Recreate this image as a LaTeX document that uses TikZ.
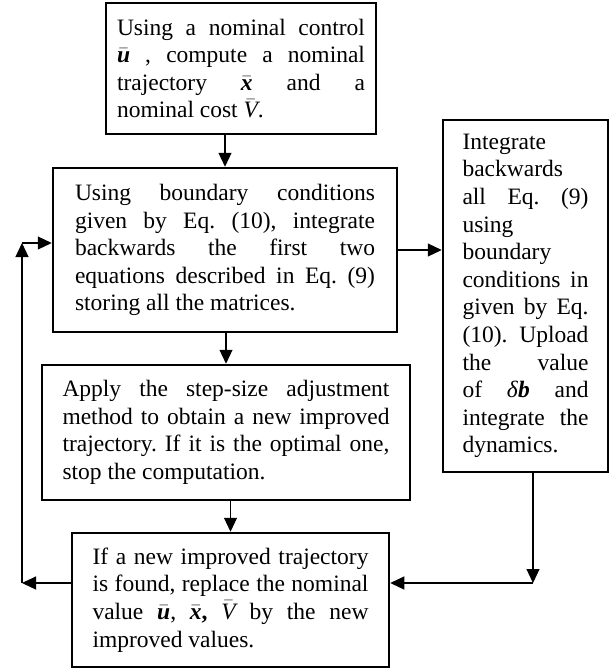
\documentclass[tikz,border=0pt]{standalone}
\usepackage{fontspec}
\setmainfont{Liberation Serif}
\usetikzlibrary{arrows.meta}

\newcommand{\nomvec}[1]{\ensuremath{\bar{\textbf{\textit{#1}}}}}
\newcommand{\nomV}{\ensuremath{\bar{\textit{V}}}}
\hyphenpenalty=10000
\frenchspacing

\begin{document}
\begin{tikzpicture}[x=1pt, y=-1pt,
    box/.style={draw, line width=2.5pt, align=justify, inner sep=0pt,
      font=\fontsize{23.5}{27.6}\selectfont},
    arr/.style={-{Triangle[length=14pt,width=13pt]}, line width=1.1pt}]
    \useasboundingbox (0,0) rectangle (611,670);

    % 方框
    \node[box, minimum width=270pt, minimum height=131pt, text width=248pt] (nominal) at (241,68.5)
      {Using a nominal control\linebreak \nomvec{u} , compute a nominal\linebreak trajectory \nomvec{x} and a\linebreak nominal cost \nomV.};
    \node[box, minimum width=344pt, minimum height=164pt, text width=300pt] (backward) at (225,250)
      {Using boundary conditions\linebreak given by Eq. (10), integrate\linebreak backwards the first two\linebreak equations described in Eq. (9)\linebreak storing all the matrices.};
    \node[box, minimum width=165pt, minimum height=352pt, text width=126pt] (fullback) at (525.5,296)
      {Integrate\linebreak backwards\linebreak all Eq. (9)\linebreak using\linebreak boundary\linebreak conditions in\linebreak given by Eq.\linebreak (10). Upload\linebreak the value\linebreak of \textit{δ}\textbf{\textit{b}} and\linebreak integrate the\linebreak dynamics.};
    \node[box, minimum width=368pt, minimum height=135pt, text width=327pt] (stepsize) at (226,432.5)
      {Apply the step-size adjustment\linebreak method to obtain a new improved\linebreak trajectory. If it is the optimal one,\linebreak stop the computation.};
    \node[box, minimum width=317pt, minimum height=134pt, text width=276pt] (update) at (230.5,600)
      {If a new improved trajectory\linebreak is found, replace the nominal\linebreak value \nomvec{u}, \nomvec{x}\textbf{,} \nomV\ by the new\linebreak improved values.};

    % 转折点
    \coordinate (rturn) at (533,583);
    \coordinate (lturn) at (22,583);
    \coordinate (ltop) at (22,243);

    % 主流程
    \draw[arr] (nominal.south -| backward.north) -- (backward.north);
    \draw[arr] (backward.south -| stepsize.north) -- (stepsize.north);
    \draw[arr] (stepsize.south -| update.north) -- (update.north);
    \draw[arr] (backward.east) -- (backward.east -| fullback.west);

    % 右侧返回
    \draw[arr] (fullback.south -| rturn) -- (rturn);
    \draw[arr] (rturn) -- (rturn -| update.east);

    % 左侧循环
    \draw[arr] (lturn -| update.west) -- (lturn);
    \draw[arr] (lturn) -- (ltop);
    \draw[arr] (ltop) -- (ltop -| backward.west);
  \end{tikzpicture}
\end{document}
